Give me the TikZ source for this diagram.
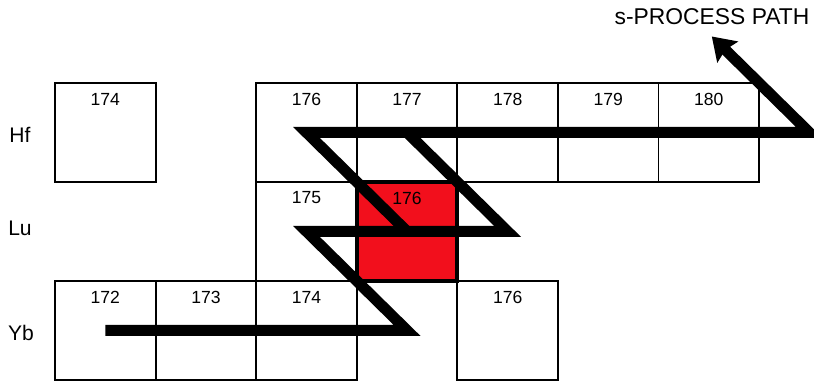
\documentclass[tikz,border=0pt]{standalone}
\usepackage{fontspec}
\setmainfont{Liberation Sans}
\usetikzlibrary{arrows.meta,positioning}

\begin{document}
\begin{tikzpicture}[
    x=0.02cm, y=-0.02cm,
    node distance=0pt,
    cell/.style={
        rectangle, draw, line width=1pt, outer sep=0pt, inner sep=0pt,
        minimum width=2.012cm, minimum height=1.98cm
    },
    hotCell/.style={cell, fill=red600, line width=2.2pt},
    mass/.style={font=\fontsize{10}{11}\selectfont},
    elem/.style={font=\fontsize{12}{14}\selectfont},
    title/.style={font=\fontsize{13}{15}\selectfont},
    flow/.style={line width=0.22cm, line join=miter, miter limit=10},
    flowArrow/.style={flow, -{Stealth[length=0.44cm, width=0.58cm, inset=0.06cm]}}
]

    \definecolor{red600}{HTML}{F20F1C}

    \useasboundingbox (0,0) rectangle (814,384);

    % Hf row
    \node[cell] (hf176) at (306.5,132.5) {};
    \node[cell, left=2.012cm of hf176] (hf174) {};
    \node[cell, right=of hf176] (hf177) {};
    \node[cell, right=of hf177] (hf178) {};
    \node[cell, right=of hf178] (hf179) {};
    \node[cell, right=of hf179] (hf180) {};

    % Lu row
    \node[cell, below=of hf176] (lu175) {};

    % Yb row
    \node[cell, below=of lu175] (yb174) {};
    \node[cell, left=of yb174] (yb173) {};
    \node[cell, left=of yb173] (yb172) {};
    \node[cell, right=2.012cm of yb174] (yb176) {};

    % branch point
    \node[hotCell, right=of lu175] (lu176) {};

    % mass numbers
    \foreach \c/\m in {hf174/174, hf176/176, hf177/177, hf178/178, hf179/179, hf180/180,
                       lu175/175, lu176/176, yb172/172, yb173/173, yb174/174, yb176/176}
        \node[mass] (m-\c) at ([yshift=-0.32cm]\c.north) {\m};

    % element labels
    \node[elem] (hfLabel) at (20,135) {Hf};
    \node[elem] (luLabel) at (20,228) {Lu};
    \node[elem] (ybLabel) at (21,333) {Yb};

    \node[title] (pathLabel) at (712,17) {s-PROCESS PATH};

    % points of the path with no box
    \coordinate (yb175) at (lu176.center |- yb174.center);
    \coordinate (lu177) at (yb176.center |- lu175.center);
    \path (hf180.center) ++(100.6,0) coordinate (hf181);
    \path (hf180.center) ++(3,-96) coordinate (tip);

    \draw[flow] (yb172.center) -- (yb175) -- (lu175.center) -- (lu177) -- (hf177.center);
    \draw[flowArrow] (lu176.center) -- (hf176.center) -- (hf181) -- (tip);

\end{tikzpicture}
\end{document}
